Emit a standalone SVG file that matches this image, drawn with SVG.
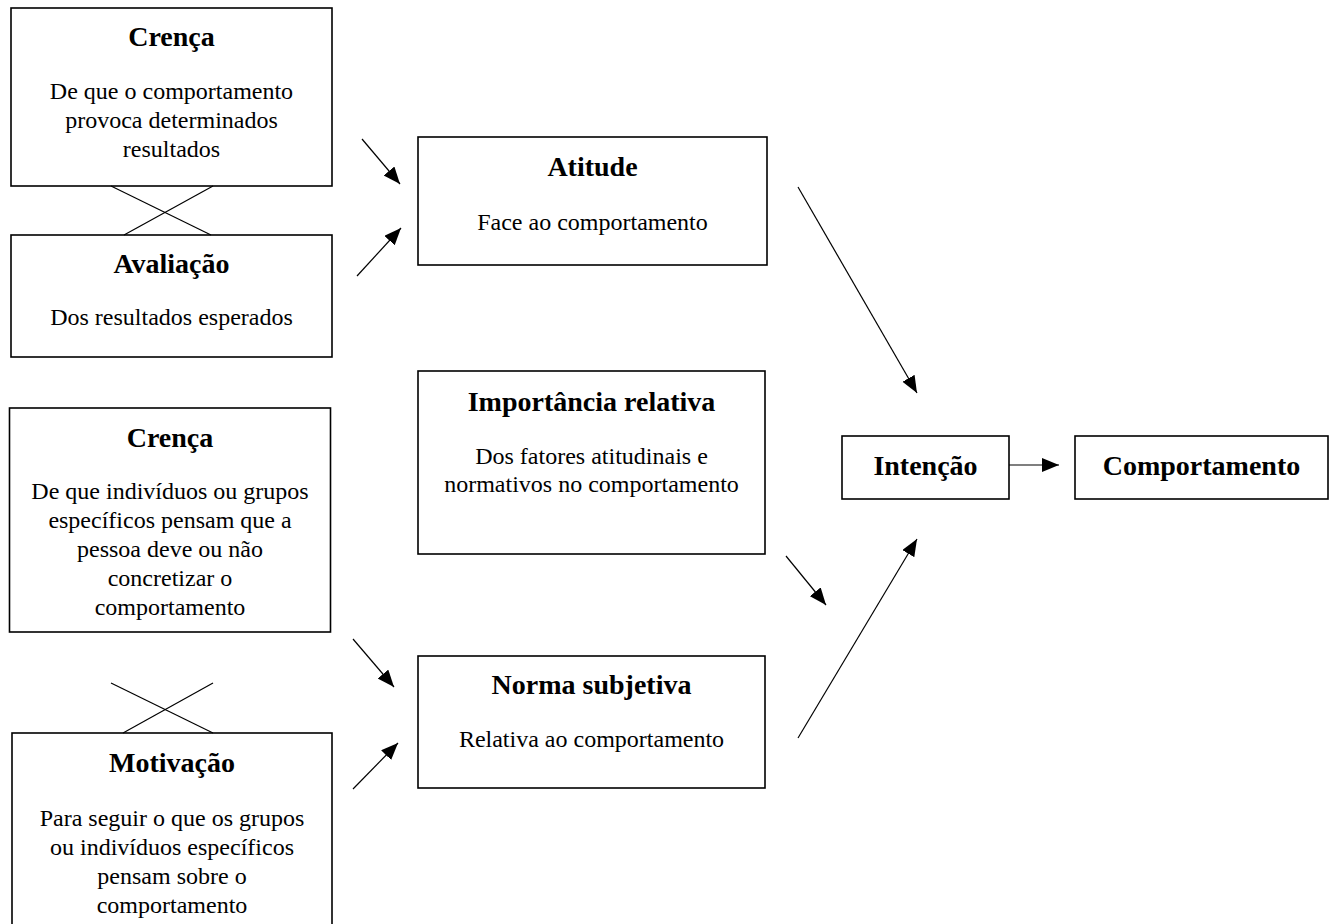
<svg xmlns="http://www.w3.org/2000/svg" width="1339" height="924" viewBox="0 0 1339 924">
<style>
.box{fill:#fff;stroke:#000;stroke-width:1.6}
.t{font-family:"Liberation Serif","Times New Roman",serif;font-weight:bold;font-size:28px;text-anchor:middle;fill:#000}
.b{font-family:"Liberation Serif","Times New Roman",serif;font-size:24px;text-anchor:middle;fill:#000}
.ln{stroke:#000;stroke-width:1.2;fill:none}
.ar{stroke:#000;stroke-width:1.2;fill:none;marker-end:url(#ah)}
</style>
<defs>
<marker id="ah" markerUnits="userSpaceOnUse" markerWidth="18" markerHeight="15" refX="17" refY="7" orient="auto">
<path d="M0,0 L17,7 L0,14 z" fill="#000"/>
</marker>
</defs>
<rect width="1339" height="924" fill="#fff"/>
<g id="crenca1">
<rect class="box" x="11" y="8" width="321" height="178"/>
<text class="t" x="171.5" y="46">Crença</text>
<text class="b" x="171.5" y="99">De que o comportamento</text>
<text class="b" x="171.5" y="128">provoca determinados</text>
<text class="b" x="171.5" y="157">resultados</text>
</g>
<g id="avaliacao">
<rect class="box" x="11" y="235" width="321" height="122"/>
<text class="t" x="171.5" y="273">Avaliação</text>
<text class="b" x="171.5" y="325">Dos resultados esperados</text>
</g>
<g id="crenca2">
<rect class="box" x="9.5" y="408" width="321" height="224"/>
<text class="t" x="170" y="447">Crença</text>
<text class="b" x="170" y="499">De que indivíduos ou grupos</text>
<text class="b" x="170" y="528">específicos pensam que a</text>
<text class="b" x="170" y="557">pessoa deve ou não</text>
<text class="b" x="170" y="586">concretizar o</text>
<text class="b" x="170" y="615">comportamento</text>
</g>
<g id="motivacao">
<rect class="box" x="12" y="733" width="320" height="200"/>
<text class="t" x="172" y="772">Motivação</text>
<text class="b" x="172" y="826">Para seguir o que os grupos</text>
<text class="b" x="172" y="855">ou indivíduos específicos</text>
<text class="b" x="172" y="884">pensam sobre o</text>
<text class="b" x="172" y="913">comportamento</text>
</g>
<g id="atitude">
<rect class="box" x="418" y="137" width="349" height="128"/>
<text class="t" x="592.5" y="176">Atitude</text>
<text class="b" x="592.5" y="230">Face ao comportamento</text>
</g>
<g id="importancia">
<rect class="box" x="418" y="371" width="347" height="183"/>
<text class="t" x="591.5" y="411">Importância relativa</text>
<text class="b" x="591.5" y="464">Dos fatores atitudinais e</text>
<text class="b" x="591.5" y="492">normativos no comportamento</text>
</g>
<g id="norma">
<rect class="box" x="418" y="656" width="347" height="132"/>
<text class="t" x="591.5" y="694">Norma subjetiva</text>
<text class="b" x="591.5" y="747">Relativa ao comportamento</text>
</g>
<g id="intencao">
<rect class="box" x="842" y="436" width="167" height="63"/>
<text class="t" x="925.5" y="475">Intenção</text>
</g>
<g id="comportamento">
<rect class="box" x="1075" y="436" width="253" height="63"/>
<text class="t" x="1201.5" y="475">Comportamento</text>
</g>
<g id="connectors">
<line class="ln" x1="111" y1="186" x2="211" y2="235"/>
<line class="ln" x1="213" y1="186" x2="124" y2="235"/>
<line class="ln" x1="111" y1="683" x2="213" y2="733"/>
<line class="ln" x1="213" y1="683" x2="123" y2="733"/>
<line class="ar" x1="362" y1="139" x2="400" y2="184"/>
<line class="ar" x1="357" y1="276" x2="401" y2="228"/>
<line class="ar" x1="353" y1="639" x2="394" y2="687"/>
<line class="ar" x1="353" y1="789" x2="398" y2="743"/>
<line class="ar" x1="798" y1="187" x2="917" y2="393"/>
<line class="ar" x1="786" y1="556" x2="826" y2="605"/>
<line class="ar" x1="798" y1="738" x2="917" y2="539"/>
<line class="ar" x1="1009" y1="465" x2="1059" y2="465"/>
</g>
</svg>
